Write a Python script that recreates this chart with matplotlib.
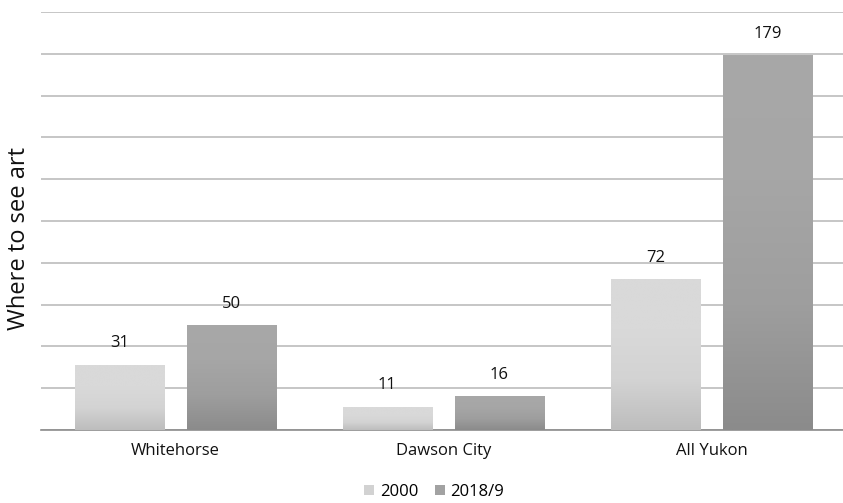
import matplotlib.pyplot as plt
import numpy as np
from matplotlib.colors import LinearSegmentedColormap
from matplotlib.patches import Patch

# data
categories = ["Whitehorse", "Dawson City", "All Yukon"]
series_names = ["2000", "2018/9"]
values_2000 = [31, 11, 72]
values_2018 = [50, 16, 179]

plt.rcParams['font.family'] = ['Open Sans', 'DejaVu Sans']

fig = plt.figure(figsize=(8.43, 5.03), dpi=100)
ax = fig.add_axes([0.049, 0.1451, 0.954, 0.8310])

# gradients: bottom -> top
cmaps = [
    LinearSegmentedColormap.from_list("g1", ["#bdbdbd", "#d3d3d3", "#d9d9d9", "#d9d9d9"]),
    LinearSegmentedColormap.from_list("g2", ["#8b8b8b", "#9e9e9e", "#a6a6a6", "#a8a8a8"]),
]
legend_colors = ["#d2d2d2", "#a2a2a2"]

width = 0.332
offsets = [-0.209, 0.209]
grad = np.linspace(0, 1, 256).reshape(-1, 1)

x = np.arange(len(categories))
for vals, off, cm in zip([values_2000, values_2018], offsets, cmaps):
    for xi, v in zip(x, vals):
        x0 = xi + off - width / 2
        ax.imshow(grad, extent=[x0, x0 + width, 0, v], origin='lower',
                  aspect='auto', cmap=cm, zorder=3, interpolation='bilinear')
        ax.annotate(str(v), (xi + off, v), xytext=(0, 10), textcoords='offset points',
                    ha='center', va='bottom', fontsize=12, color='#111111', zorder=4)

ax.set_xlim(-0.5, 2.5)
ax.set_ylim(0, 200)
ax.set_yticks(np.arange(0, 201, 20))
ax.yaxis.grid(True, color='#bcbcbc', linewidth=1.2, zorder=0)
ax.set_axisbelow(True)
ax.tick_params(axis='y', length=0, labelleft=False)
ax.set_xticks(x)
ax.set_xticklabels(categories, fontsize=12, color='#111111')
ax.tick_params(axis='x', length=0, pad=9)
for s in ['top', 'right', 'left']:
    ax.spines[s].set_visible(False)
ax.spines['bottom'].set_color('#8c8c8c')
ax.spines['bottom'].set_linewidth(1.2)

fig.text(0.022, 0.525, "Where to see art", rotation=90, fontsize=17,
         ha='center', va='center', color='#111111')

handles = [Patch(facecolor=c, edgecolor='none') for c in legend_colors]
fig.legend(handles, series_names, loc='center', bbox_to_anchor=(0.515, 0.022),
           ncol=2, frameon=False, fontsize=12, handlelength=0.6, handleheight=0.6,
           columnspacing=1.0, handletextpad=0.35)

fig.savefig("out.png", dpi=100)
